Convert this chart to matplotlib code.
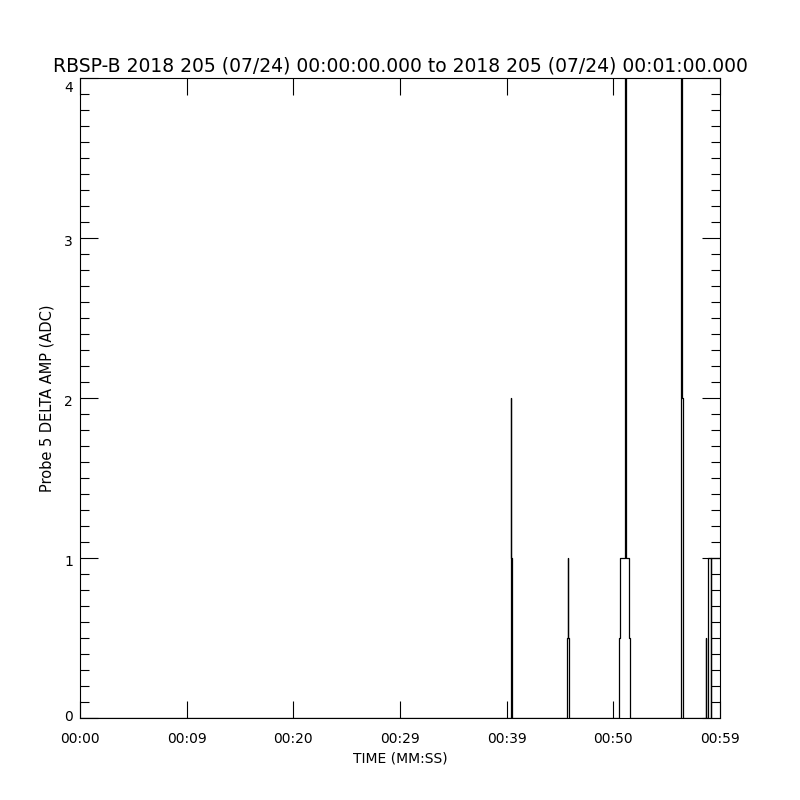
import numpy as np
import matplotlib
matplotlib.use("Agg")
import matplotlib.pyplot as plt
import matplotlib.transforms as mtransforms
from matplotlib.ticker import MultipleLocator

# step change times (seconds after 00:00:00) and the value held from each time on
times = [0.0,
         40.37, 40.39, 40.42, 40.45, 40.48, 40.53,
         45.69, 45.77, 45.78, 45.84,
         50.50, 50.60, 51.07, 51.11, 51.17, 51.23, 51.47, 51.56,
         56.36, 56.39, 56.45, 56.51,
         58.69, 58.73, 58.84, 59.17, 59.19,
         60.0]
values = [0,
          0.5, 1, 2, 1, 0.5, 0,
          0.5, 1, 0.5, 0,
          0.5, 1, 2, 6, 2, 1, 0.5, 0,
          2, 6, 2, 0,
          0.5, 0, 1, 0, 1,
          1]

x_ticks = [0, 10, 20, 30, 40, 50, 60]
x_tick_labels = ["00:00", "00:09", "00:20", "00:29", "00:39", "00:50", "00:59"]
y_ticks = [0, 1, 2, 3, 4]

title = "RBSP-B 2018 205 (07/24) 00:00:00.000 to 2018 205 (07/24) 00:01:00.000"

fig = plt.figure(figsize=(8, 8), dpi=100)
ax = fig.add_axes([0.1, 0.1025, 0.8, 0.8])

ax.plot(times, values, drawstyle="steps-post", color="black", lw=0.9)

ax.set_xlim(0, 60)
ax.set_ylim(0, 4)
ax.set_xticks(x_ticks)
ax.set_xticklabels(x_tick_labels)
ax.set_yticks(y_ticks)
ax.yaxis.set_minor_locator(MultipleLocator(0.1))

ax.tick_params(axis="both", which="both", direction="in", top=True, right=True,
               labelsize=10, width=0.8)
ax.tick_params(axis="x", which="major", length=12, pad=10)
ax.tick_params(axis="y", which="major", length=13, pad=5)
ax.tick_params(axis="y", which="minor", length=6.5)
for s in ax.spines.values():
    s.set_linewidth(0.8)

# IDL-style: y labels sit a little below their tick
fig.canvas.draw()
shift = mtransforms.ScaledTranslation(0, -2 / 72, fig.dpi_scale_trans)
for lab in ax.get_yticklabels():
    lab.set_transform(lab.get_transform() + shift)
    if lab.get_text() == "4":
        lab.set_verticalalignment("top")
    elif lab.get_text() == "0":
        lab.set_verticalalignment("baseline")

ax.set_title(title, fontsize=13.5, pad=5)
ax.set_xlabel("TIME (MM:SS)", fontsize=10, labelpad=4)
ax.set_ylabel("Probe 5 DELTA AMP (ADC)", fontsize=10.5, labelpad=7)

plt.savefig("out.png", dpi=100)
plt.close()
